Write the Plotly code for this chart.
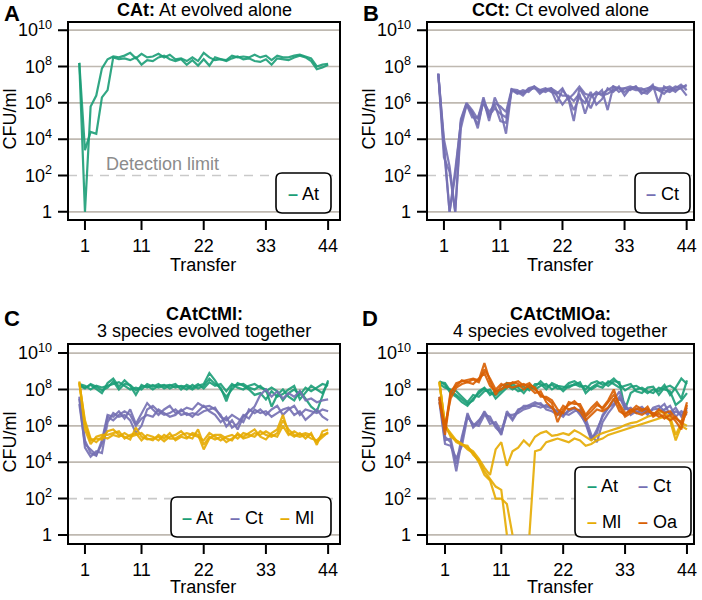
import plotly.graph_objects as go

W, H = 702, 600
FONT = "Liberation Sans, Arial, Helvetica, sans-serif"

transfers = list(range(45))
x_tick_vals = [1, 11, 22, 33, 44]
y_tick_exps = [0, 2, 4, 6, 8, 10]
y_tick_text = ["1", "10<sup>2</sup>", "10<sup>4</sup>", "10<sup>6</sup>", "10<sup>8</sup>", "10<sup>10</sup>"]
detection_exp = 2

# ---- log10(CFU/ml) per transfer (0..44); None = not detected ----
A_At_1 = [8.2, 0.0, 5.8, 6.4, 7.9, 8.4, 8.55, 8.5, 8.6, 8.75, 8.45, 8.7, 8.5, 8.55, 8.7, 8.5, 8.65, 8.4, 8.45, 8.3, 8.5, 8.3, 8.75, 8.5, 8.35, 8.4, 8.35, 8.6, 8.5, 8.55, 8.5, 8.65, 8.5, 8.6, 8.35, 8.6, 8.5, 8.5, 8.6, 8.65, 8.55, 8.45, 8.0, 8.1, 8.15]
A_At_2 = [8.2, 3.4, 4.4, 4.3, 6.3, 6.7, 8.5, 8.4, 8.45, 8.35, 8.5, 8.1, 8.35, 8.3, 8.5, 8.6, 8.4, 8.3, 8.4, 8.1, 8.35, 8.05, 8.4, 8.05, 8.5, 8.4, 8.3, 8.45, 8.55, 8.4, 8.45, 8.3, 8.25, 8.4, 8.1, 8.45, 8.4, 8.35, 8.5, 8.6, 8.5, 8.3, 7.85, 7.95, 8.1]

B_Ct_1 = [7.6, 3.8, 0.0, 2.3, 4.9, 5.9, 5.5, 4.6, 6.2, 5.0, 6.3, 5.6, 4.3, 6.75, 6.7, 6.5, 6.8, 6.9, 6.6, 6.7, 6.7, 6.0, 6.7, 6.3, 5.0, 6.8, 6.3, 5.7, 6.4, 6.7, 5.6, 6.9, 6.8, 6.8, 6.7, 6.9, 6.5, 6.7, 7.0, 6.0, 6.9, 6.7, 6.9, 6.8, 6.4]
B_Ct_2 = [7.6, 3.0, 2.2, 0.0, 4.6, 5.9, 5.2, 5.2, 6.0, 5.3, 5.7, 5.4, 5.2, 6.7, 6.5, 6.6, 6.7, 6.8, 6.7, 6.8, 6.6, 6.5, 6.8, 6.2, 6.5, 6.9, 6.5, 6.4, 6.5, 6.5, 6.7, 6.9, 6.6, 6.8, 6.9, 6.8, 6.8, 6.6, 6.9, 6.7, 6.7, 6.6, 6.8, 7.0, 6.7]
B_Ct_3 = [7.6, 3.5, 0.0, 2.0, 5.0, 5.95, 5.4, 4.8, 6.1, 5.5, 5.9, 5.0, 4.9, 6.7, 6.6, 6.4, 6.75, 6.85, 6.5, 6.75, 6.8, 6.4, 5.9, 6.3, 5.6, 6.3, 6.0, 6.6, 5.9, 6.2, 6.8, 6.6, 6.9, 6.4, 6.8, 6.9, 6.6, 6.5, 6.8, 6.7, 6.5, 6.8, 6.6, 6.9, 6.9]
B_Ct_4 = [7.6, 4.0, 2.5, 0.0, 5.1, 6.0, 5.6, 5.1, 6.3, 5.2, 6.0, 5.8, 5.5, 6.75, 6.55, 6.7, 6.6, 6.9, 6.7, 6.6, 6.8, 6.6, 6.4, 6.4, 6.1, 6.5, 5.4, 6.3, 6.6, 6.4, 6.5, 6.7, 6.8, 6.6, 6.8, 6.7, 6.7, 6.8, 6.9, 6.8, 6.8, 6.9, 6.7, 6.8, 7.0]

C_At_1 = [8.25, 8.1, 8.25, 8.0, 7.8, 8.35, 8.6, 8.15, 8.5, 8.2, 7.7, 8.25, 8.1, 8.25, 8.1, 8.2, 8.25, 8.1, 8.2, 8.15, 8.0, 8.2, 8.3, 8.9, 8.5, 8.0, 7.6, 8.0, 8.35, 8.2, 8.0, 7.7, 7.8, 7.45, 7.9, 7.6, 7.75, 8.0, 8.2, 7.45, 7.8, 8.2, 8.0, 7.8, 8.4]
C_At_2 = [8.3, 8.2, 8.0, 8.2, 8.1, 8.2, 8.3, 8.4, 8.2, 8.0, 8.1, 8.0, 8.3, 8.15, 8.3, 8.05, 8.2, 8.3, 8.0, 8.25, 8.1, 8.3, 8.05, 8.4, 8.2, 8.3, 7.9, 8.3, 8.1, 8.0, 8.2, 8.3, 8.1, 8.0, 7.05, 7.7, 8.0, 7.6, 7.4, 7.9, 7.5, 7.05, 6.8, 7.6, 8.5]
C_At_3 = [8.2, 8.05, 8.3, 8.15, 7.95, 8.1, 8.45, 8.0, 8.3, 8.25, 7.95, 8.15, 8.2, 8.0, 8.2, 8.25, 8.05, 8.2, 8.15, 8.0, 8.25, 8.05, 8.2, 8.6, 8.3, 8.1, 7.35, 8.2, 8.25, 8.3, 8.1, 8.0, 8.2, 7.9, 8.1, 7.9, 7.4, 7.8, 8.0, 7.7, 8.1, 7.9, 8.1, 8.3, 8.2]
C_Ct_1 = [7.6, 5.2, 4.5, 4.35, 5.2, 6.6, 6.5, 6.8, 6.4, 6.9, 6.1, 6.7, 7.25, 6.9, 6.6, 6.9, 7.1, 6.7, 6.8, 7.0, 6.9, 7.25, 7.05, 7.1, 6.9, 6.6, 5.96, 6.3, 5.8, 6.5, 6.8, 7.06, 7.7, 8.0, 7.6, 7.9, 7.5, 7.8, 7.6, 7.9, 7.4, 7.5, 7.3, 7.4, 7.45]
C_Ct_2 = [7.5, 4.8, 4.3, 4.6, 4.5, 6.2, 6.7, 6.5, 6.6, 6.3, 5.6, 6.0, 6.9, 7.1, 6.8, 6.6, 6.7, 6.9, 6.6, 6.7, 6.5, 6.8, 7.1, 6.8, 6.6, 6.2, 6.5, 5.9, 6.1, 6.6, 6.4, 6.9, 6.7, 6.8, 6.5, 6.7, 6.9, 7.0, 6.6, 6.8, 6.33, 6.6, 6.9, 6.5, 6.3]
C_Ct_3 = [7.2, 5.0, 4.7, 4.4, 5.0, 6.5, 6.3, 6.6, 6.8, 6.6, 6.0, 6.4, 6.6, 6.5, 6.9, 6.7, 6.5, 6.6, 6.9, 6.6, 6.7, 6.6, 6.8, 6.9, 7.0, 6.5, 6.3, 6.6, 6.4, 6.2, 6.9, 6.7, 6.9, 6.6, 6.9, 7.1, 6.6, 6.9, 7.1, 6.6, 6.9, 6.8, 6.7, 6.9, 6.8]
C_Ml_1 = [8.45, 6.1, 5.2, 5.3, 5.25, 5.7, 5.8, 5.5, 5.4, 5.25, 5.9, 5.4, 5.25, 5.3, 5.4, 5.15, 5.4, 5.5, 5.7, 5.4, 5.3, 5.8, 4.95, 5.4, 5.25, 5.4, 5.1, 5.3, 5.5, 5.4, 5.6, 5.8, 5.4, 5.25, 5.6, 5.8, 6.6, 5.6, 5.4, 5.6, 5.3, 5.6, 4.95, 5.7, 5.8]
C_Ml_2 = [8.4, 5.8, 5.0, 5.4, 5.5, 5.5, 5.6, 5.7, 5.3, 5.5, 5.6, 5.2, 5.5, 5.4, 5.2, 5.5, 5.3, 5.3, 5.5, 5.6, 5.5, 5.4, 5.2, 5.6, 5.4, 5.2, 5.4, 5.5, 5.3, 5.6, 5.5, 5.4, 5.7, 5.5, 5.4, 5.6, 6.3, 5.8, 5.5, 5.4, 5.5, 5.3, 5.2, 5.5, 5.6]
C_Ml_3 = [8.35, 6.3, 5.3, 5.1, 5.4, 5.3, 5.5, 5.4, 5.6, 5.4, 5.5, 5.6, 5.3, 5.2, 5.5, 5.3, 5.6, 5.2, 5.4, 5.3, 5.6, 5.5, 4.7, 5.3, 5.5, 5.5, 5.3, 5.2, 5.6, 5.3, 5.4, 5.6, 5.5, 5.7, 5.5, 5.4, 6.0, 5.5, 5.7, 5.5, 5.6, 5.5, 5.1, 5.4, 5.65]

D_At_1 = [8.45, 8.25, 7.8, 7.6, 7.3, 7.1, 7.5, 7.8, 8.05, 7.8, 7.7, 7.95, 8.35, 8.15, 7.9, 8.0, 8.1, 8.15, 8.45, 8.15, 8.25, 8.05, 8.05, 8.35, 8.45, 8.25, 8.0, 8.35, 8.45, 8.25, 8.35, 8.6, 8.25, 7.95, 8.15, 8.2, 8.0, 7.8, 8.0, 7.9, 8.25, 7.7, 8.1, 8.6, 8.3]
D_At_2 = [8.3, 8.1, 8.0, 7.9, 7.6, 7.3, 7.7, 7.6, 7.9, 8.0, 7.5, 7.8, 8.1, 8.3, 8.1, 7.8, 8.2, 8.0, 8.2, 8.3, 8.0, 8.2, 7.9, 8.2, 8.25, 8.4, 7.8, 8.1, 8.3, 8.4, 8.2, 8.45, 8.4, 6.9, 7.8, 8.0, 8.1, 7.9, 7.8, 8.1, 8.0, 7.9, 7.15, 7.4, 7.8]
D_At_3 = [8.4, 8.35, 7.9, 7.7, 7.45, 7.2, 7.4, 7.9, 8.1, 7.7, 7.9, 8.0, 8.2, 8.0, 8.2, 8.15, 7.95, 8.3, 8.3, 8.0, 8.35, 8.2, 8.15, 8.1, 8.3, 8.15, 8.2, 8.0, 8.2, 8.1, 8.45, 8.3, 8.1, 8.2, 8.3, 7.9, 7.8, 8.1, 8.15, 7.7, 8.1, 8.2, 8.0, 7.5, 8.5]
D_Ct_1 = [7.6, 5.4, 5.1, 3.5, 5.2, 6.7, 5.9, 6.2, 6.8, 6.3, 6.05, 5.5, 6.8, 6.4, 6.9, 7.0, 7.15, 7.3, 7.15, 7.05, 6.95, 6.8, 6.6, 6.8, 6.95, 6.7, 6.1, 5.2, 5.8, 6.5, 6.95, 7.4, 7.9, 7.05, 6.8, 6.9, 7.05, 6.7, 6.9, 6.95, 7.2, 6.6, 6.8, 6.6, 6.9]
D_Ct_2 = [7.3, 5.0, 4.9, 4.2, 4.9, 6.5, 6.1, 6.0, 6.6, 6.5, 5.9, 5.6, 6.6, 6.6, 6.7, 6.9, 7.0, 7.2, 7.25, 6.9, 6.8, 6.6, 6.7, 6.6, 6.8, 6.9, 6.4, 5.5, 5.1, 6.2, 6.7, 7.1, 7.5, 7.2, 6.6, 6.8, 6.7, 6.9, 6.6, 6.8, 6.9, 7.1, 6.5, 6.8, 6.6]
D_Ct_3 = [7.5, 5.2, 5.3, 3.9, 5.4, 6.6, 6.0, 6.3, 6.7, 6.1, 6.2, 5.7, 6.7, 6.3, 6.8, 7.1, 7.1, 7.1, 7.0, 7.15, 7.0, 6.7, 6.5, 6.9, 7.0, 6.6, 6.2, 5.3, 5.6, 6.6, 7.0, 7.2, 7.6, 6.9, 7.0, 6.7, 6.9, 6.6, 7.0, 7.1, 6.8, 6.7, 7.0, 6.5, 7.0]
D_Ml_1 = [8.45, 5.96, 5.5, 5.1, 4.95, 4.9, 4.4, 4.1, 3.5, 3.1, 2.66, 2.48, 0.0, None, None, None, 0.0, 4.6, 4.7, 5.1, 5.2, 5.3, 5.2, 5.1, 5.3, 5.2, 4.9, 5.0, 5.2, 5.3, 5.5, 5.6, 5.7, 5.8, 5.9, 6.0, 6.1, 6.2, 6.3, 6.4, 6.5, 6.3, 5.2, 6.0, 5.8]
D_Ml_2 = [8.4, 6.0, 5.6, 5.2, 5.0, 4.7, 4.5, 4.0, 3.3, 3.0, 2.0, 2.0, 1.7, 0.0] + [None] * 31
D_Ml_3 = [8.4, 6.1, 5.4, 5.2, 5.0, 4.8, 4.6, 4.2, 3.7, 3.3, 4.7, 5.1, 3.8, 4.6, 4.8, 5.2, 4.9, 5.4, 5.6, 5.7, 5.45, 5.5, 5.6, 5.5, 5.75, 5.6, 5.41, 5.2, 5.45, 5.6, 5.7, 5.78, 5.9, 6.05, 6.15, 6.2, 6.35, 6.5, 6.6, 6.8, 6.7, 6.5, 5.5, 6.15, 6.0]
D_Oa_1 = [7.5, 5.5, 7.8, 8.35, 8.45, 8.53, 8.6, 8.5, 9.45, 8.45, 7.7, 8.2, 8.35, 8.35, 8.45, 8.2, 8.35, 8.0, 7.7, 7.5, 7.25, 6.2, 6.9, 7.15, 7.35, 7.05, 6.5, 6.8, 7.15, 7.0, 7.4, 8.0, 7.05, 6.5, 6.7, 6.95, 6.8, 7.05, 6.5, 6.7, 6.4, 6.6, 6.25, 5.8, 7.15]
D_Oa_2 = [7.3, 6.0, 7.5, 8.1, 8.3, 8.4, 8.3, 8.6, 8.9, 8.2, 7.9, 8.0, 8.2, 8.1, 8.2, 8.3, 8.1, 7.8, 7.9, 7.3, 7.0, 6.6, 7.1, 6.9, 7.0, 6.8, 6.3, 6.6, 6.9, 6.8, 7.0, 7.5, 6.8, 6.6, 6.9, 6.7, 6.6, 6.8, 6.7, 6.5, 6.6, 6.3, 6.5, 6.1, 6.8]
D_Oa_3 = [7.6, 5.8, 7.9, 8.2, 8.5, 8.4, 8.55, 8.4, 9.1, 8.6, 8.0, 8.3, 8.1, 8.4, 8.3, 8.0, 8.25, 8.1, 7.6, 7.6, 7.4, 6.9, 6.7, 7.3, 7.2, 7.2, 6.6, 7.0, 7.3, 6.9, 7.3, 7.7, 7.2, 6.7, 6.8, 7.1, 6.9, 6.9, 6.6, 6.9, 6.7, 6.8, 6.4, 6.2, 7.3]

COLORS = {"At": "#1b9e77", "Ct": "#7570b3", "Ml": "#e6ab02", "Oa": "#d95f02"}
GRID = "#bfb9b1"
DET = "#c9c9c9"
TICKLEN = 10
EXT = 13  # extra room (px) inside each subplot, left and below the frame, for the tick marks


def X(px):
    return px / W


def Y(py):
    return 1 - py / H


def P(x, y):
    return f"{X(x):.5f},{Y(y):.5f}"


panels = [
    dict(xa="x", ya="y", box=(68, 22, 340, 220), xr=[-2.0, 46.1], yr=[-0.45, 10.45],
         series=[("At", [A_At_1, A_At_2])]),
    dict(xa="x2", ya="y2", box=(427, 22, 694, 220), xr=[-2.0, 45.3], yr=[-0.45, 10.45],
         series=[("Ct", [B_Ct_1, B_Ct_2, B_Ct_3, B_Ct_4])]),
    dict(xa="x3", ya="y3", box=(68, 344, 340, 544), xr=[-2.0, 46.1], yr=[-0.5, 10.5],
         series=[("At", [C_At_1, C_At_2, C_At_3]), ("Ct", [C_Ct_1, C_Ct_2, C_Ct_3]),
                 ("Ml", [C_Ml_1, C_Ml_2, C_Ml_3])]),
    dict(xa="x4", ya="y4", box=(427, 344, 694, 544), xr=[-2.2, 45.25], yr=[-0.5, 10.5],
         series=[("At", [D_At_1, D_At_2, D_At_3]), ("Ct", [D_Ct_1, D_Ct_2, D_Ct_3]),
                 ("Ml", [D_Ml_1, D_Ml_2, D_Ml_3]), ("Oa", [D_Oa_1, D_Oa_2, D_Oa_3])]),
]

fig = go.Figure()
layout = dict(template="none", width=W, height=H, margin=dict(l=0, r=0, t=0, b=0, pad=0),
              paper_bgcolor="white", plot_bgcolor="white", showlegend=False,
              font=dict(family=FONT, size=18, color="black"))
shapes = []
ann = []


def text(x, y, t, size=18, color="black", xanchor="center", angle=0):
    ann.append(dict(x=X(x), y=Y(y), xref="paper", yref="paper", text=t, showarrow=False,
                    xanchor=xanchor, yanchor="middle", textangle=angle,
                    font=dict(size=size, color=color, family=FONT)))


for p in panels:
    for sp, reps in p["series"]:
        for rep in reps:
            fig.add_trace(go.Scatter(
                x=transfers, y=[None if v is None else 10 ** v for v in rep],
                mode="lines", line=dict(color=COLORS[sp], width=2.2), opacity=0.9,
                connectgaps=False, xaxis=p["xa"], yaxis=p["ya"], hoverinfo="skip"))
    x0, y0, x1, y1 = p["box"]
    pw, ph = x1 - x0, y1 - y0
    xr, yr = p["xr"], p["yr"]
    ux = (xr[1] - xr[0]) / pw  # axis units per pixel
    uy = (yr[1] - yr[0]) / ph
    xkey = "xaxis" + p["xa"][1:]
    ykey = "yaxis" + p["ya"][1:]
    common = dict(tickmode="array", ticks="", showline=False, showgrid=False, zeroline=False,
                  automargin=False, tickfont=dict(size=18, color="black"))
    layout[xkey] = dict(domain=[X(x0 - EXT), X(x1)], range=[xr[0] - EXT * ux, xr[1]], anchor=p["ya"],
                        tickvals=x_tick_vals, ticktext=[str(t) for t in x_tick_vals],
                        ticklabelstandoff=0, **common)
    layout[ykey] = dict(domain=[Y(y1 + EXT), Y(y0)], range=[yr[0] - EXT * uy, yr[1]], type="log",
                        anchor=p["xa"], tickvals=[10 ** e for e in y_tick_exps], ticktext=y_tick_text,
                        ticklabelstandoff=2, **common)
    # horizontal reference lines at each labelled decade; detection limit dashed
    for e in y_tick_exps:
        is_det = e == detection_exp
        shapes.append(dict(type="line", xref=p["xa"], yref=p["ya"],
                           x0=xr[0], x1=xr[1], y0=10 ** e, y1=10 ** e, layer="below",
                           line=dict(color=DET if is_det else GRID, width=1.7,
                                     dash="9px,7px" if is_det else "solid")))
    # frame plus outside tick marks as one path
    path = f"M{P(x0, y0)} L{P(x1, y0)} L{P(x1, y1)} L{P(x0, y1)} Z"
    for t in x_tick_vals:
        tx = x0 + (t - xr[0]) / ux
        path += f" M{P(tx, y1)} L{P(tx, y1 + TICKLEN)}"
    for e in y_tick_exps:
        ty = y1 - (e - yr[0]) / uy
        path += f" M{P(x0, ty)} L{P(x0 - TICKLEN, ty)}"
    shapes.append(dict(type="path", xref="paper", yref="paper", path=path, layer="above",
                       fillcolor="rgba(0,0,0,0)", line=dict(color="black", width=2)))
    # axis titles
    text((x0 + x1) / 2 - 1, y1 + 45 - (2 if y0 > 300 else 0), "Transfer")
    text(9.5 if x0 < 300 else 368.5, (y0 + y1) / 2 - 2, "CFU/ml", angle=-90)


def rounded_rect(x0, y0, x1, y1, r):
    return (f"M{P(x0 + r, y0)} L{P(x1 - r, y0)} Q{P(x1, y0)} {P(x1, y0 + r)} "
            f"L{P(x1, y1 - r)} Q{P(x1, y1)} {P(x1 - r, y1)} L{P(x0 + r, y1)} "
            f"Q{P(x0, y1)} {P(x0, y1 - r)} L{P(x0, y0 + r)} Q{P(x0, y0)} {P(x0 + r, y0)} Z")


legend_boxes = [(276, 173, 331, 213), (635, 173, 690, 213), (171, 497, 331, 537), (575, 467, 691, 537)]
for b in legend_boxes:
    shapes.append(dict(type="path", xref="paper", yref="paper", path=rounded_rect(*b, 6),
                       fillcolor="white", line=dict(color="black", width=1.6), layer="above"))
layout["shapes"] = shapes

# panel letters
text(2, 14, "<b>A</b>", 22, xanchor="left")
text(361, 13, "<b>B</b>", 22, xanchor="left")
text(2, 318, "<b>C</b>", 22, xanchor="left")
text(360, 318, "<b>D</b>", 22, xanchor="left")
# titles
text(204, 10, "<b>CAt:</b> At evolved alone")
text(560, 10, "<b>CCt:</b> Ct evolved alone")
text(204, 314, "<b>CAtCtMl:</b>")
text(204, 331, "3 species evolved together")
text(560, 314, "<b>CAtCtMlOa:</b>")
text(560, 331, "4 species evolved together")
# detection limit label
text(104, 164, "Detection limit", color="#8c8c8c", xanchor="left")


def leg(x, y, sp):
    text(x, y, f'<span style="color:{COLORS[sp]}"><b>–</b></span> {sp}', xanchor="left")


leg(286, 194, "At")
leg(644, 194, "Ct")
leg(180, 518, "At")
leg(228, 518, "Ct")
leg(278, 518, "Ml")
leg(585, 486, "At")
leg(636, 486, "Ct")
leg(585, 522, "Ml")
leg(636, 522, "Oa")
layout["annotations"] = ann

fig.update_layout(**layout)
fig.write_html("out.html", config={"displayModeBar": False},
               post_script="document.body.style.margin='0px';")
